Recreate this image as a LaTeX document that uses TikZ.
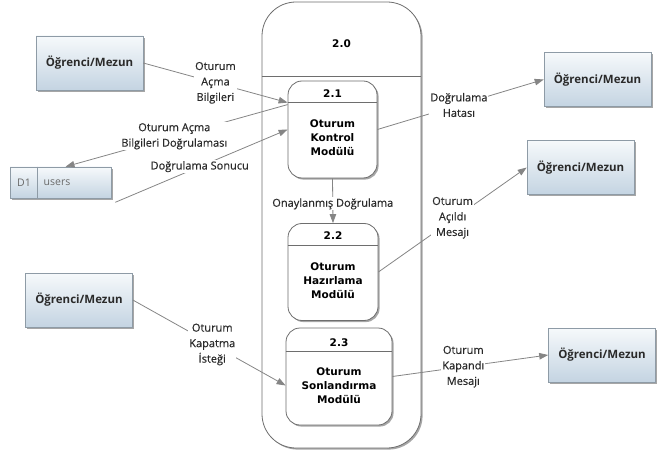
\documentclass[tikz,border=0pt]{standalone}
\usepackage{fontspec}
\setmainfont{Open Sans}
\newfontfamily\dvfont{DejaVu Sans}
\newfontfamily\lblfont[FakeBold=0.5]{Open Sans}
\usetikzlibrary{arrows.meta,shadows,calc}
\definecolor{linegray}{HTML}{858585}
\definecolor{enttop}{HTML}{F6F9FB}
\definecolor{entbot}{HTML}{C4D4E2}
\definecolor{entborder}{HTML}{8E9BA6}
\definecolor{procborder}{HTML}{6E6E6E}
\definecolor{labeltext}{HTML}{2A2A2A}
\definecolor{storetext}{HTML}{6A6A6A}
\begin{document}
\begin{tikzpicture}[x=1pt,y=-1pt,
  softshadow/.style={drop shadow={shadow xshift=1.6pt,shadow yshift=-1.6pt,opacity=0.35,fill=black}},
  ent/.style={draw=entborder, line width=0.6pt, top color=enttop, bottom color=entbot,
    minimum width=107pt, minimum height=54pt, inner sep=0pt, softshadow,
    font=\bfseries\fontsize{11.5}{13}\selectfont, text=labeltext},
  store/.style={draw=entborder, line width=0.6pt, top color=enttop, bottom color=entbot,
    minimum width=101pt, minimum height=31pt, inner sep=0pt, softshadow},
  storetxt/.style={font=\fontsize{10.5}{12}\selectfont, text=storetext, inner sep=0pt},
  outerbox/.style={draw=procborder, line width=0.8pt, fill=white, rounded corners=34pt,
    minimum width=159pt, minimum height=446pt, inner sep=0pt, softshadow},
  proc/.style={draw=procborder, line width=0.8pt, fill=white, rounded corners=14pt,
    minimum height=97pt, inner sep=0pt, softshadow},
  hdr/.style={font=\dvfont\bfseries\fontsize{10.5}{12}\selectfont, inner sep=0pt},
  body/.style={font=\dvfont\bfseries\fontsize{10.5}{14}\selectfont, align=center, inner sep=0pt},
  divline/.style={draw=procborder, line width=0.6pt},
  flow/.style={draw=linegray, line width=0.8pt, -{Triangle[length=9pt,width=6.5pt]}},
  flowlbl/.style={fill=white, inner sep=1pt, align=center,
    font=\lblfont\fontsize{11}{15.5}\selectfont, text=labeltext}
]
\useasboundingbox (0,0) rectangle (663,454);

% outer process 2.0
\node[outerbox] (o) at (341.5,225) {};
\draw[divline] ($(o.north west)+(0,75)$) -- ($(o.north east)+(0,75)$);
\node[hdr] (oh) at ($(o.north)+(0,42)$) {2.0};

% sub processes
\node[proc, minimum width=89pt] (p1) at (332.5,129.5) {};
\draw[divline] ($(p1.north west)+(0,22)$) -- ($(p1.north east)+(0,22)$);
\node[hdr] (p1h) at ($(p1.north)+(0,13)$) {2.1};
\node[body] (p1b) at ($(p1.north)+(0,57)$) {Oturum\\Kontrol\\Modülü};

\node[proc, minimum width=90pt] (p2) at (333,272) {};
\draw[divline] ($(p2.north west)+(0,22)$) -- ($(p2.north east)+(0,22)$);
\node[hdr] (p2h) at ($(p2.north)+(0,13)$) {2.2};
\node[body] (p2b) at ($(p2.north)+(0,58)$) {Oturum\\Hazırlama\\Modülü};

\node[proc, minimum width=106pt] (p3) at (339,376.5) {};
\draw[divline] ($(p3.north west)+(0,24)$) -- ($(p3.north east)+(0,24)$);
\node[hdr] (p3h) at ($(p3.north)+(0,15)$) {2.3};
\node[body] (p3b) at ($(p3.north)+(0,58)$) {Oturum\\Sonlandırma\\Modülü};

% external entities
\node[ent] (e1) at (89.5,63) {Öğrenci/Mezun};
\node[ent] (e2) at (597.5,79.5) {Öğrenci/Mezun};
\node[ent] (e3) at (580.5,167.5) {Öğrenci/Mezun};
\node[ent] (e4) at (79,300) {Öğrenci/Mezun};
\node[ent] (e5) at (602,355) {Öğrenci/Mezun};

% data store
\node[store] (d1) at (60.5,182.5) {};
\draw[draw=entborder, line width=0.6pt] ($(d1.north west)+(28,0)$) -- ($(d1.south west)+(28,0)$);
\node[storetxt] (d1id) at (24,183) {D1};
\node[storetxt] (d1name) at (57,183) {users};

% connection points
\coordinate (p1a) at ($(p1.north west)+(0,22)$);
\coordinate (p1b2) at ($(p1.north west)+(0,24)$);
\coordinate (d1in) at ($(d1.north)+(5,0)$);
\coordinate (d1out) at ($(d1.south east)+(4,4)$);
\coordinate (p3in) at ($(p3.west)+(0,9)$);

% flows
\draw[flow] (e1.east) -- node[flowlbl, pos=0.5] {Oturum\\Açma\\Bilgileri} (p1a);
\draw[flow] (p1b2) -- node[flowlbl, pos=0.51] {Oturum Açma\\Bilgileri Doğrulaması} (d1in);
\draw[flow] (d1out) -- node[flowlbl, pos=0.49] {Doğrulama Sonucu} (p1.west);
\draw[flow] (p1.south) -- node[flowlbl, pos=0.57] {Onaylanmış Doğrulama} (p2.north);
\draw[flow] (p1.east) -- node[flowlbl, pos=0.49] {Doğrulama\\Hatası} (e2.west);
\draw[flow] (p2.east) -- node[flowlbl, pos=0.5, yshift=2pt] {Oturum\\Açıldı\\Mesajı} (e3.west);
\draw[flow] (e4.east) -- node[flowlbl, pos=0.52] {Oturum\\Kapatma\\İsteği} (p3in);
\draw[flow] (p3.east) -- node[flowlbl, pos=0.455] {Oturum\\Kapandı\\Mesajı} (e5.west);
\end{tikzpicture}
\end{document}
